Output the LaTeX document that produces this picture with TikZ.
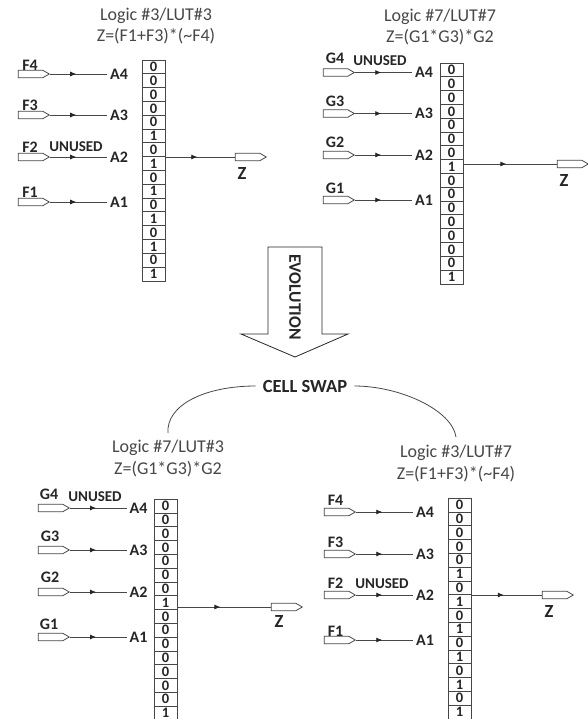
\documentclass[tikz,border=0pt]{standalone}
\usepackage{fontspec}
\setmainfont{Carlito}
\usetikzlibrary{shapes.symbols,arrows.meta,decorations.markings}
\definecolor{ink}{gray}{0.15}
\definecolor{wire}{gray}{0.28}
\tikzset{
  titletext/.style={font=\fontsize{18}{21.5}\selectfont,text=black!72,align=center,inner sep=0pt},
  labeltext/.style={font=\bfseries\fontsize{16}{18}\selectfont,text=ink,inner sep=0pt},
  unusedtext/.style={font=\bfseries\fontsize{15}{17}\selectfont,text=ink,inner sep=0pt},
  bigtext/.style={font=\bfseries\fontsize{18.5}{20}\selectfont,text=ink,inner sep=0pt},
  bitcell/.style={draw=wire,line width=0.8pt,minimum width=23pt,minimum height=13.8pt,inner sep=0pt,
    font=\bfseries\fontsize{14.5}{14.5}\selectfont,text=ink},
  pinshape/.style={draw=wire,line width=0.8pt,fill=white,signal,signal to=east,signal pointer angle=60,
    minimum width=31pt,minimum height=7.5pt,inner sep=0pt},
  wireline/.style={draw=wire,line width=0.8pt,postaction={decorate},
    decoration={markings,mark=at position 0.46 with {\arrow[ink]{Latex[length=6pt,width=5pt]}}}},
}
% #1 prefix, #2 table centre x, #3 first cell centre y, #4 list of bits
\newcommand{\bitcolumn}[4]{%
  \foreach \b [count=\i from 0] in {#4}{
    \node[bitcell] (#1-\i) at (#2,{#3+\i*13.8}) {\b};
  }}
% #1 prefix, #2 row, #3 name, #4 pin centre x, #5 y, #6 name y, #7 A x, #8 name x
\newcommand{\inputrow}[8]{%
  \node[pinshape] (#1-p#2) at (#4,#5) {};
  \node[labeltext] (#1-n#2) at (#8,#6) {#3};
  \node[labeltext,anchor=west,inner xsep=3pt] (#1-a#2) at (#7,#5) {A#2};
  \draw[wireline] (#1-p#2.east) -- (#1-a#2.west);
}
% #1 prefix, #2 source anchor x node, #3 y, #4 pin centre x, #5 Z x, #6 Z y
\newcommand{\outputrow}[6]{%
  \node[pinshape] (#1-out) at (#4,#3) {};
  \node[bigtext] (#1-z) at (#5,#6) {Z};
  \coordinate (#1-src) at (#2.east |- #1-out.west);
  \draw[wireline] (#1-src) -- (#1-out.west);
}
\begin{document}
\begin{tikzpicture}[x=1pt,y=-1pt]
\clip (0,0) rectangle (588,719);
\fill[white] (0,0) rectangle (588,719);
% top left
\node[titletext] (t1) at (156,26) {Logic \#3/LUT\#3\\Z=(F1+F3)*(\textasciitilde F4)};
\bitcolumn{a}{153.5}{67}{0,0,0,0,0,1,0,1,0,1,0,1,0,1,0,1}
\inputrow{a}{4}{F4}{30.5}{74}{65}{107}{30}
\inputrow{a}{3}{F3}{30.5}{115}{105}{107}{30}
\inputrow{a}{2}{F2}{30.5}{157}{147}{107}{30}
\inputrow{a}{1}{F1}{30.5}{202}{192}{107}{30}
\node[unusedtext] (a-u) at (76,146.5) {UNUSED};
\outputrow{a}{a-7}{157}{247.5}{242}{174}
% top right
\node[titletext] (t2) at (440,27) {Logic \#7/LUT\#7\\Z=(G1*G3)*G2};
\bitcolumn{b}{451.5}{70}{0,0,0,0,0,0,0,1,0,0,0,0,0,0,0,1}
\inputrow{b}{4}{G4}{335.5}{72.5}{58}{412}{335}
\inputrow{b}{3}{G3}{335.5}{113.5}{101}{412}{335}
\inputrow{b}{2}{G2}{335.5}{155}{142}{412}{335}
\inputrow{b}{1}{G1}{335.5}{200}{188}{412}{335}
\node[unusedtext] (b-u) at (380,61) {UNUSED};
\outputrow{b}{b-7}{164}{569.5}{564}{181}
% evolution arrow
\draw[draw=ink,line width=0.8pt,fill=white] (268,247) -- (322,247) -- (322,334) -- (348,334) -- (295,357) -- (241,334) -- (268,334) -- cycle;
\node[bigtext,rotate=-90,font=\bfseries\fontsize{17.5}{19}\selectfont] (evo) at (295,297) {EVOLUTION};
% cell swap
\node[bigtext,inner xsep=7pt] (swap) at (305,386) {CELL SWAP};
\node[titletext] (t3) at (168,458.5) {Logic \#7/LUT\#3\\Z=(G1*G3)*G2};
\node[titletext] (t4) at (456,463.5) {Logic \#3/LUT\#7\\Z=(F1+F3)*(\textasciitilde F4)};
\coordinate (arcl) at (168,433);
\coordinate (arcr) at (456,437);
\draw[draw=wire,line width=0.8pt] (swap.west) .. controls (205,386) and (166,405) .. (arcl);
\draw[draw=wire,line width=0.8pt] (swap.east) .. controls (400,386) and (452,410) .. (arcr);
% bottom left
\bitcolumn{c}{165.5}{506}{0,0,0,0,0,0,0,1,0,0,0,0,0,0,0,1}
\inputrow{c}{4}{G4}{50.5}{508}{494}{126.5}{49}
\inputrow{c}{3}{G3}{50.5}{550}{536}{126.5}{50}
\inputrow{c}{2}{G2}{50.5}{592}{577}{126.5}{50}
\inputrow{c}{1}{G1}{50.5}{637}{624}{126.5}{49}
\node[unusedtext] (c-u) at (95,497) {UNUSED};
\outputrow{c}{c-7}{607}{283.5}{279}{621}
% bottom right
\bitcolumn{d}{459.5}{505}{0,0,0,0,0,1,0,1,0,1,0,1,0,1,0,1}
\inputrow{d}{4}{F4}{336.5}{512}{500}{413}{335.5}
\inputrow{d}{3}{F3}{336.5}{554}{542}{413}{335.5}
\inputrow{d}{2}{F2}{336.5}{595}{583}{413}{335.5}
\inputrow{d}{1}{F1}{336.5}{640}{631}{413}{335.5}
\node[unusedtext] (d-u) at (382,584) {UNUSED};
\outputrow{d}{d-7}{595}{554.5}{549}{611}
\end{tikzpicture}
\end{document}
